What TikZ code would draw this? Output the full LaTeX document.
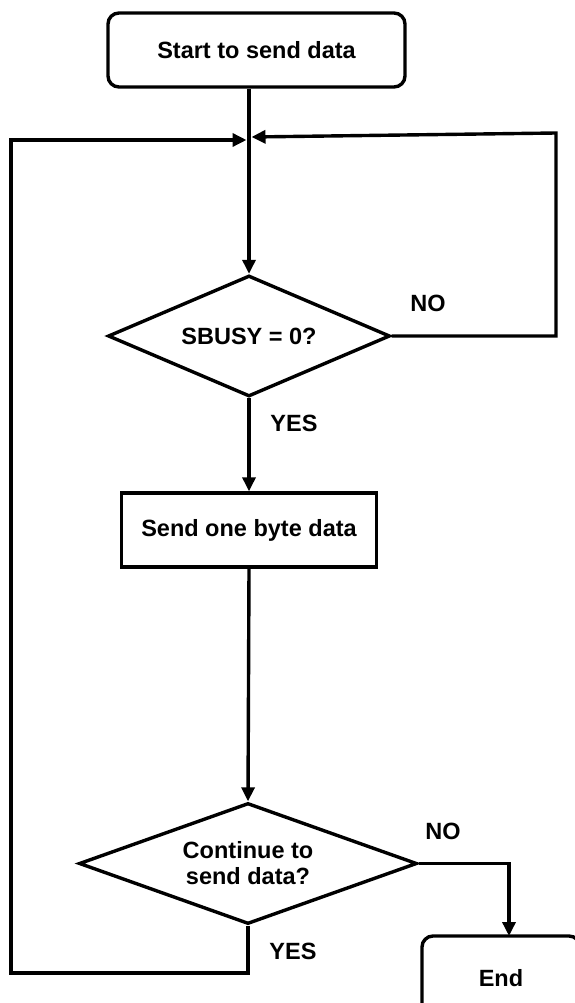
\documentclass[tikz,border=0pt]{standalone}
\usepackage{fontspec}
\setmainfont{Liberation Sans}
\usetikzlibrary{shapes.geometric,arrows.meta}
\begin{document}
\begin{tikzpicture}[x=1pt,y=-1pt,
  every node/.style={font=\fontsize{23.5}{26}\selectfont\bfseries},
  flow/.style={line width=3.4pt},
  arr/.style={flow,-{Triangle[length=14pt,width=13pt]}},
  termbox/.style={draw,line width=3.4pt,rounded corners=11pt,inner sep=0pt},
  procbox/.style={draw,line width=3.4pt,inner sep=0pt,minimum width=255pt,minimum height=74pt},
  decision/.style={draw,line width=3.4pt,diamond,inner sep=0pt,align=center},
  lbl/.style={inner sep=0pt}
]
\useasboundingbox (0,0) rectangle (575,1003);
\node[termbox,minimum width=297pt,minimum height=74pt] (start) at (256.5,50) {Start to send data};
\node[decision,shape aspect=2.33,minimum width=282pt,minimum height=121pt] (d1) at (249,336) {SBUSY = 0?};
\node[procbox] (send) at (249,530) {Send one byte data};
\node[decision,shape aspect=2.8,minimum width=338pt,minimum height=121pt] (d2) at (248,863.5) {Continue to\\send data?};
\node[termbox,minimum width=158pt,minimum height=84pt] (end) at (501,978) {End};

\coordinate (rc) at (556,133);
\coordinate (mR) at (251.5,137);
\coordinate (mL) at (246.5,140);
\coordinate (lc) at (11,140);
\coordinate (bc) at (11,973);
\coordinate (ec) at (509,936);

\draw[arr] (start.south -| d1.north) -- (d1.north);
\draw[arr] (d1.east) -| (rc) -- (mR);
\draw[arr] (d1.south) -- (send.north);
\draw[arr] (send.south) -- (d2.north);
\draw[arr] (d2.south) |- (bc) -- (lc) -- (mL);
\draw[arr] (d2.east) -| (ec);

\node[lbl] (no1) at (428,303) {NO};
\node[lbl] (yes1) at (294,423) {YES};
\node[lbl] (no2) at (443,831) {NO};
\node[lbl] (yes2) at (293,951) {YES};
\end{tikzpicture}
\end{document}
